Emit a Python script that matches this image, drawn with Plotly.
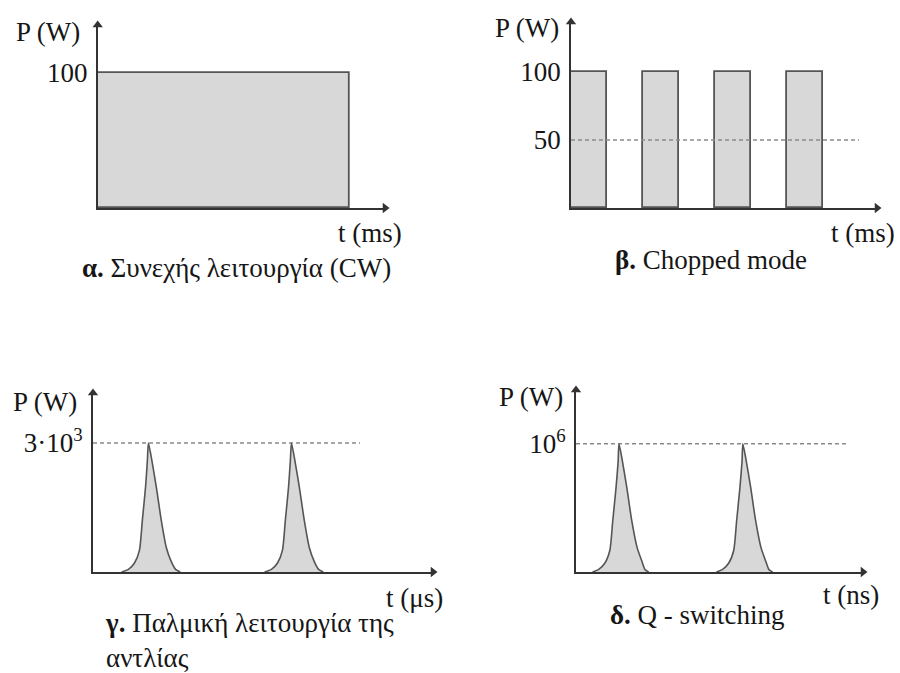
import plotly.graph_objects as go

W, H = 900, 673

# ---------------- data ----------------
# α: continuous wave
cw_start = [0.0]
cw_end = [10.0]
cw_power = [100]

# β: chopped mode
chop_start = [0.0, 2.0, 4.0, 6.0]
chop_end = [1.0, 3.0, 5.0, 7.0]
chop_power = [100, 100, 100, 100]
chop_avg_t = [0.0, 8.0]
chop_avg_p = [50, 50]

# γ: pulsed pumping (μs, W)
pulse_g1_t = [0.80, 0.99, 1.16, 1.30, 1.38, 1.47, 1.52, 1.55, 1.63, 1.77, 1.91, 2.05, 2.19, 2.31, 2.44]
pulse_g2_t = [4.80, 4.99, 5.16, 5.30, 5.38, 5.47, 5.52, 5.55, 5.63, 5.77, 5.91, 6.05, 6.19, 6.31, 6.44]
pulse_g_p = [0, 60, 210, 510, 1200, 1980, 2580, 3000, 2670, 1980, 1200, 570, 240, 60, 0]
peak_g_t = [0.0, 7.47]
peak_g_p = [3000, 3000]

# δ: Q-switching (ns, W)
pulse_d1_t = [0.40, 0.55, 0.70, 0.82, 0.89, 0.97, 1.02, 1.04, 1.11, 1.23, 1.35, 1.48, 1.60, 1.67, 1.76]
pulse_d2_t = [3.40, 3.55, 3.70, 3.82, 3.89, 3.97, 4.02, 4.04, 4.11, 4.23, 4.35, 4.48, 4.60, 4.67, 4.76]
pulse_d_p = [0, 0.02e6, 0.07e6, 0.17e6, 0.40e6, 0.66e6, 0.86e6, 1.0e6, 0.89e6, 0.66e6, 0.40e6, 0.19e6, 0.08e6, 0.02e6, 0]
peak_d_t = [0.0, 6.56]
peak_d_p = [1e6, 1e6]

y_ticks = {
    "y": ([100], ["100"]),
    "y2": ([50, 100], ["50", "100"]),
    "y3": ([3000], ["3·10<sup>3</sup>"]),
    "y4": ([1e6], ["10<sup>6</sup>"]),
}

# ---------------- style ----------------
FONT = "Liberation Serif, Times New Roman, Tinos, serif"
FS = 27
TXT = "#161616"
FILL = "#d8d8d8"
EDGE = "#555555"
AXC = "#333333"
DASH = "#8a8a8a"


def px_x(px):
    return px / W


def px_y(py):
    return 1 - py / H


# panel geometry in pixels: (x_origin, x_tip, y_origin, y_tip), data ranges
panels = {
    "": dict(xd=(97.7, 385), yd=(208, 25), xr=11.4, yr=135.6),
    "2": dict(xd=(571, 877), yd=(208, 22), xr=8.5, yr=136.8),
    "3": dict(xd=(93, 433), yd=(572, 393), xr=9.51, yr=4163),
    "4": dict(xd=(576, 863), yd=(572, 390), xr=6.95, yr=1.42e6),
}

fig = go.Figure()

# α bars
fig.add_trace(go.Bar(
    x=[(s + e) / 2 for s, e in zip(cw_start, cw_end)],
    y=cw_power, width=[e - s for s, e in zip(cw_start, cw_end)],
    marker=dict(color=FILL, line=dict(color=EDGE, width=1.8)),
    xaxis="x", yaxis="y"))

# β bars
fig.add_trace(go.Bar(
    x=[(s + e) / 2 for s, e in zip(chop_start, chop_end)],
    y=chop_power, width=[e - s for s, e in zip(chop_start, chop_end)],
    marker=dict(color=FILL, line=dict(color=EDGE, width=1.8)),
    xaxis="x2", yaxis="y2"))
fig.add_trace(go.Scatter(x=chop_avg_t, y=chop_avg_p, mode="lines",
                         line=dict(color=DASH, width=1.5, dash="4px,3px"),
                         xaxis="x2", yaxis="y2"))

# γ pulses
fig.add_trace(go.Scatter(x=peak_g_t, y=peak_g_p, mode="lines",
                         line=dict(color=DASH, width=1.5, dash="4px,3px"),
                         xaxis="x3", yaxis="y3"))
for tt in (pulse_g1_t, pulse_g2_t):
    fig.add_trace(go.Scatter(x=tt, y=pulse_g_p, mode="lines", fill="tozeroy",
                             fillcolor=FILL,
                             line=dict(color=EDGE, width=1.6, shape="spline", smoothing=0.6),
                             xaxis="x3", yaxis="y3"))

# δ pulses
fig.add_trace(go.Scatter(x=peak_d_t, y=peak_d_p, mode="lines",
                         line=dict(color=DASH, width=1.5, dash="4px,3px"),
                         xaxis="x4", yaxis="y4"))
for tt in (pulse_d1_t, pulse_d2_t):
    fig.add_trace(go.Scatter(x=tt, y=pulse_d_p, mode="lines", fill="tozeroy",
                             fillcolor=FILL,
                             line=dict(color=EDGE, width=1.6, shape="spline", smoothing=0.6),
                             xaxis="x4", yaxis="y4"))

# axis arrowheads as triangle markers at the axis ends
for k, p in panels.items():
    fig.add_trace(go.Scatter(x=[p["xr"]], y=[0], mode="markers", cliponaxis=False,
                             marker=dict(symbol="triangle-right", size=9, color=AXC),
                             xaxis="x" + k, yaxis="y" + k))
    fig.add_trace(go.Scatter(x=[0], y=[p["yr"]], mode="markers", cliponaxis=False,
                             marker=dict(symbol="triangle-up", size=9, color=AXC),
                             xaxis="x" + k, yaxis="y" + k))

layout = dict(
    width=W, height=H, margin=dict(l=0, r=0, t=0, b=0),
    paper_bgcolor="white", plot_bgcolor="rgba(0,0,0,0)",
    showlegend=False, bargap=0,
    font=dict(family=FONT, size=FS, color=TXT),
)

for k, p in panels.items():
    xa, ya = "xaxis" + k, "yaxis" + k
    xid, yid = "x" + k, "y" + k
    layout[xa] = dict(domain=[px_x(p["xd"][0]), px_x(p["xd"][1])], range=[0, p["xr"]],
                      anchor=yid, showgrid=False, zeroline=False, showticklabels=False,
                      ticks="", showline=True, linecolor=AXC, linewidth=1.8, fixedrange=True)
    tv, tt = y_ticks["y" + k]
    layout[ya] = dict(domain=[px_y(p["yd"][0]), px_y(p["yd"][1])], range=[0, p["yr"]],
                      anchor=xid, showgrid=False, zeroline=False, ticks="",
                      tickvals=tv, ticktext=tt, ticklabelstandoff=3,
                      tickfont=dict(family=FONT, size=FS, color=TXT),
                      showline=True, linecolor=AXC, linewidth=1.8, fixedrange=True)

texts = [
    ("P (W)", 48, 32, "center"),
    ("t (ms)", 370, 233, "center"),
    ("<b>α.</b> Συνεχής λειτουργία (CW)", 236, 268, "center"),
    ("P (W)", 527, 28, "center"),
    ("t (ms)", 863, 233, "center"),
    ("<b>β.</b> Chopped mode", 711, 260, "center"),
    ("P (W)", 45, 402, "center"),
    ("t (μs)", 414, 598, "center"),
    ("<b>γ.</b> Παλμική λειτουργία της<br>αντλίας", 103, 640, "left"),
    ("P (W)", 531, 397, "center"),
    ("t (ns)", 851, 595, "center"),
    ("<b>δ.</b> Q - switching", 697, 615, "center"),
]
annotations = []
for txt, x, y, al in texts:
    annotations.append(dict(xref="paper", yref="paper", x=px_x(x), y=px_y(y), text=txt,
                            showarrow=False, xanchor=al, yanchor="middle", align="left",
                            font=dict(family=FONT, size=FS, color=TXT)))

layout["annotations"] = annotations
fig.update_layout(**layout)
fig.write_html("out.html", config={"displayModeBar": False},
               post_script="document.body.style.margin='0';")
